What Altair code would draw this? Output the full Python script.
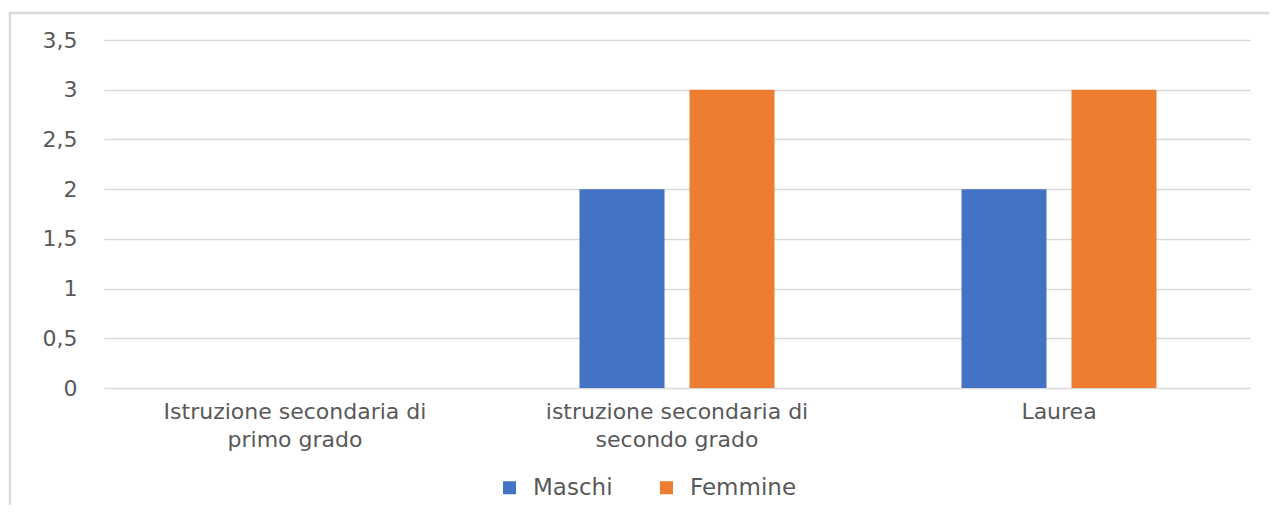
import altair as alt
import pandas as pd

categories = [
    "Istruzione secondaria di primo grado",
    "istruzione secondaria di secondo grado",
    "Laurea",
]
series = ["Maschi", "Femmine"]
maschi = [0, 2, 2]
femmine = [0, 3, 3]
colors = ["#4472C4", "#ED7D31"]
y_ticks = [0, 0.5, 1, 1.5, 2, 2.5, 3, 3.5]

rows = []
for c, m, f in zip(categories, maschi, femmine):
    rows.append({"cat": c, "serie": "Maschi", "val": m})
    rows.append({"cat": c, "serie": "Femmine", "val": f})
df = pd.DataFrame(rows)

FONT = "DejaVu Sans"
GRAY = "#595959"
FS = 22

label_expr = (
    "indexof(datum.label, ' di ') > 0 ? "
    "[slice(datum.label, 0, indexof(datum.label, ' di ') + 3), "
    "slice(datum.label, indexof(datum.label, ' di ') + 4)] : datum.label"
)

bars = alt.Chart(df).mark_bar().encode(
    x=alt.X(
        "cat:N",
        sort=categories,
        scale=alt.Scale(paddingInner=0, paddingOuter=0),
        axis=alt.Axis(
            title=None,
            labelAngle=0,
            labelExpr=label_expr,
            labelFont=FONT,
            labelFontSize=FS,
            labelColor=GRAY,
            labelPadding=13,
            labelLineHeight=28,
            labelLimit=400,
            domain=False,
            ticks=False,
            grid=False,
        ),
    ),
    xOffset=alt.XOffset(
        "serie:N",
        sort=series,
        scale=alt.Scale(paddingInner=0.227, paddingOuter=0.85),
    ),
    y=alt.Y(
        "val:Q",
        scale=alt.Scale(domain=[0, 3.5], nice=False),
        axis=alt.Axis(
            title=None,
            values=y_ticks,
            format=".1~f",
            labelExpr="replace(datum.label, '.', ',')",
            labelFont=FONT,
            labelFontSize=FS,
            labelColor=GRAY,
            labelPadding=27,
            domain=False,
            ticks=False,
            grid=True,
            gridColor="#d9d9d9",
            gridWidth=1.5,
        ),
    ),
    color=alt.Color(
        "serie:N",
        sort=series,
        scale=alt.Scale(domain=series, range=colors),
        legend=alt.Legend(
            title=None,
            orient="none",
            direction="horizontal",
            legendX=394,
            legendY=436,
            symbolType="square",
            symbolSize=170,
            symbolStrokeWidth=0,
            labelFont=FONT,
            labelFontSize=23,
            labelColor=GRAY,
            labelOffset=12,
            columnPadding=42,
        ),
    ),
)

border = alt.Chart(pd.DataFrame({"a": [0]})).mark_rect(
    fill=None, stroke="#d9d9d9", strokeWidth=2.5
).encode(
    x=alt.value(-94), x2=alt.value(1200), y=alt.value(-27), y2=alt.value(600)
)

chart = alt.layer(border, bars).properties(
    width=1146,
    height=348,
    autosize=alt.AutoSizeParams(type="none"),
    padding={"left": 96, "top": 32, "right": 19, "bottom": 117},
).configure(background="white").configure_view(strokeWidth=0, stroke="transparent")

chart.save("out.html", embed_options={"renderer": "svg", "actions": False})
